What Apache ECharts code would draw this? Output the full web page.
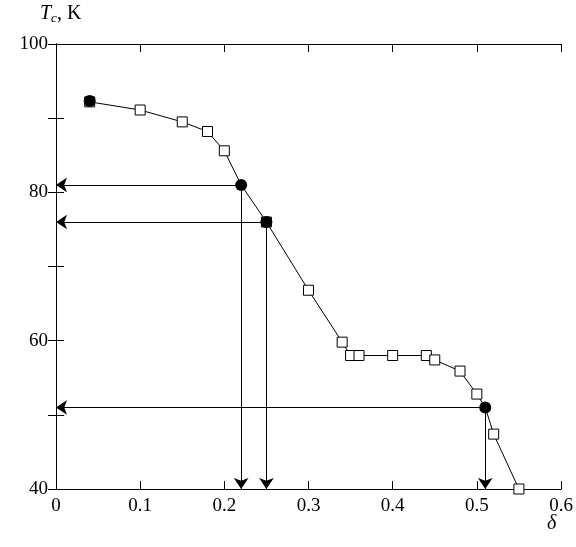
<!DOCTYPE html>
<html>
<head>
<meta charset="utf-8">
<script src="https://cdn.jsdelivr.net/npm/echarts@6/dist/echarts.min.js"></script>
<style>html,body{margin:0;padding:0;background:#fff}#main{width:576px;height:547px}</style>
</head>
<body>
<div id="main"></div>
<script>
// measured points
var deltaVals = [0.04, 0.10, 0.15, 0.18, 0.20, 0.22, 0.25, 0.30, 0.34, 0.35, 0.36, 0.40, 0.44, 0.45, 0.48, 0.50, 0.51, 0.52, 0.55];
var tcVals = [92.2, 91.1, 89.5, 88.2, 85.6, 81, 76, 66.8, 59.8, 58, 58, 58, 58, 57.4, 55.9, 52.8, 51, 47.4, 40];
// filled points (squares skipped there)
var filledDelta = [0.04, 0.22, 0.25, 0.51];
var filledTc = [92.3, 81, 76, 51];
// arrows go from these filled points to the axes
var arrowIdx = [1, 2, 3];
var xMin = 0, xMax = 0.6, yMin = 40, yMax = 100;

var serif = 'Liberation Serif';
var lineData = deltaVals.map(function (d, i) { return [d, tcVals[i]]; });
var squareData = lineData.filter(function (p) {
    return filledDelta.indexOf(p[0]) < 0 || p[0] === 0.04 || p[0] === 0.25;
});
var circleData = filledDelta.map(function (d, i) { return [d, filledTc[i]]; });
var arrows = [];
arrowIdx.forEach(function (i) {
    arrows.push({coords: [[filledDelta[i], filledTc[i]], [xMin, filledTc[i]]]});
    arrows.push({coords: [[filledDelta[i], filledTc[i]], [filledDelta[i], yMin]]});
});

var axisCommon = {
    axisLine: {show: true, lineStyle: {color: '#000', width: 1}},
    axisTick: {show: true, inside: true, length: 8, lineStyle: {color: '#000'}},
    splitLine: {show: false}
};

var myChart = echarts.init(document.getElementById('main'));
var option = {
    backgroundColor: '#fff',
    animation: false,
    grid: {left: 56, right: 15, top: 44, bottom: 58},
    xAxis: [
        Object.assign({
            type: 'value', min: xMin, max: xMax, interval: 0.1, position: 'bottom',
            axisLabel: {color: '#000', fontFamily: serif, fontSize: 19, margin: 8,
                formatter: function (v) { return v === 0 ? '0' : String(+v.toFixed(1)); }}
        }, axisCommon),
        Object.assign({
            type: 'value', min: xMin, max: xMax, interval: 0.1, position: 'top',
            axisLabel: {show: false}
        }, axisCommon)
    ],
    yAxis: [
        Object.assign({
            type: 'value', min: yMin, max: yMax, interval: 20, position: 'left',
            minorTick: {show: true, splitNumber: 2, length: 8, lineStyle: {color: '#000'}},
            axisLabel: {color: '#000', fontFamily: serif, fontSize: 19, margin: 8}
        }, axisCommon),
        Object.assign({
            type: 'value', min: yMin, max: yMax, interval: 20, position: 'right',
            minorTick: {show: true, splitNumber: 2, length: 8, lineStyle: {color: '#000'}},
            axisLabel: {show: false}
        }, axisCommon)
    ],
    graphic: [
        {type: 'text', left: 40, top: 4, style: {
            rich: {i: {fontStyle: 'italic', fontFamily: serif, fontSize: 20}, s: {fontStyle: 'italic', fontFamily: serif, fontSize: 13, verticalAlign: 'bottom', padding: [9, 0, 0, 0]}, n: {fontFamily: serif, fontSize: 20}},
            text: '{i|T}{s|c}{n|, K}', fill: '#000'}},
        {type: 'text', left: 547, top: 514, style: {text: 'δ', fontStyle: 'italic', fontFamily: serif, fontSize: 20, fill: '#000'}}
    ],
    series: [
        {type: 'line', data: lineData, symbol: 'none', lineStyle: {color: '#000', width: 1}, z: 2},
        {type: 'scatter', data: squareData, symbol: 'rect', symbolSize: 10,
            itemStyle: {color: '#fff', borderColor: '#000', borderWidth: 1, opacity: 1}, z: 3},
        {type: 'scatter', data: circleData, symbol: 'circle', symbolSize: 12,
            itemStyle: {color: '#000', opacity: 1}, z: 4},
        {type: 'lines', coordinateSystem: 'cartesian2d', data: arrows,
            symbol: ['none', 'arrow'], symbolSize: [0, 11],
            lineStyle: {color: '#000', width: 1, opacity: 1}, z: 1}
    ]
};
myChart.setOption(option, true);
</script>
</body>
</html>
